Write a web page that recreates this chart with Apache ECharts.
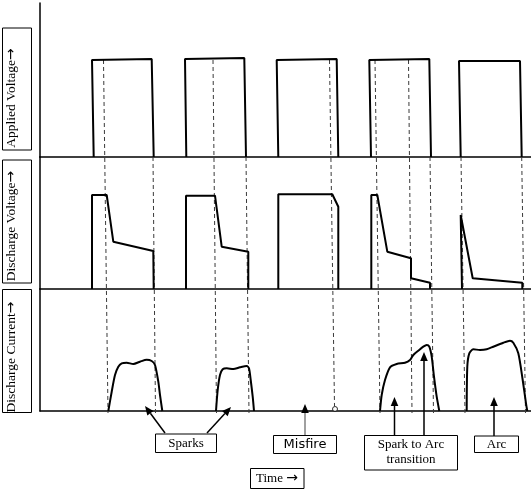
<!DOCTYPE html>
<html><head><meta charset="utf-8">
<script src="https://cdn.jsdelivr.net/npm/echarts@6/dist/echarts.min.js"></script>
<style>html,body{margin:0;padding:0;background:#fff}#c{width:531px;height:490px}</style>
</head><body><div id="c"></div>
<script>
// ---------- DATA (time in arbitrary units, amplitudes in arbitrary units) ----------
const panelLabels = ['Applied Voltage', 'Discharge Voltage', 'Discharge Current'];
const arrowGlyph = '\u2192';
const annotationLabels = ['Sparks', 'Misfire', 'Spark to Arc\ntransition', 'Arc', 'Time '];

// Applied voltage pulses: [time, amplitude]
const appliedV = [
  [[53.7,0],[52,97],[111.7,98],[113.7,0]],
  [[146.3,0],[145,98],[204.3,99],[206,0]],
  [[238.3,0],[236.7,97],[296.7,98],[298.3,0]],
  [[331,0],[329.3,97],[389.3,98],[391,0]],
  [[420.7,0],[419,96],[480,96],[481.7,0]]
];
// Discharge voltage: [time, amplitude]
const dischargeV = [
  [[52,0],[52,94],[66.7,94],[73.3,47.3],[113.3,38],[113.7,0]],
  [[146,0],[146,93.3],[175,93.3],[181.7,42.3],[208.3,37.3],[208.3,0]],
  [[238.3,0],[238.3,94.7],[292.3,94.7],[298.3,82.3],[298.3,0]],
  [[331.3,0],[331.3,94],[337.3,94],[347.3,37.3],[371,30.7],[371,10.7],[390,6.3],[390,0]],
  [[422,0],[420.7,74],[432.7,10.7],[482.3,6.3],[482.3,0]]
];
// Discharge current: [time, amplitude]
const dischargeI = [
  [[68.3,0],[71.7,19.3],[75,36],[78.3,44.3],[81.7,47.7],[86.7,48.3],[93.3,47],[100,49.3],[106.7,51.3],[111.7,50],[115,46],[118.3,29.3],[120,16],[122.3,0]],
  [[176,0],[177.7,21],[180,36],[182.7,41.7],[186.7,42.7],[193.3,42],[200,43.7],[206.7,45],[209,42.7],[210.7,31],[212.7,14.3],[214,0]],
  [[340,0],[341.7,16],[345,31],[350,43.7],[356.7,47],[365,48.3],[370,51],[373.3,56],[378.3,60.3],[383.3,64.3],[386.7,66],[389.3,64.3],[391.7,54.3],[394,34.3],[396.7,14.3],[399.3,0]],
  [[426.7,0],[427.3,44.3],[429.3,57.7],[433.3,61.7],[440,61],[446.7,61.7],[453.3,64.3],[463.3,68.3],[470,70.3],[473.3,68.3],[478.3,57.7],[482.7,31],[486,7.7],[487.3,0]]
];
const misfirePoint = [[295, 2]];

// Event guides (dashed): time at top, time at bottom, whether guide starts at pulse top
const markTimeTop    = [63.5, 113, 173, 206, 289.5, 335, 368.5, 390, 421, 481.7];
const markTimeBottom = [68, 115.5, 176.5, 209, 294.5, 340, 372, 393.5, 425, 485.5];
const markFromPulseTop = [true, false, true, false, true, true, true, false, false, false];
const markEndsAtMisfire = [false, false, false, false, true, false, false, false, false, false];

// ---------- LAYOUT ----------
const L = 40, W = 491;
const panels = [{top: 3, h: 154}, {top: 157, h: 132}, {top: 289, h: 122}];
const depthPulseTop = 60, depthBase = 157, depthEnd = 413, depthMisfire = 406;
const serif = '"Liberation Serif","Times New Roman",serif';
const arrowFont = '14px "DejaVu Sans",sans-serif';

const chart = echarts.init(document.getElementById('c'), null, {renderer: 'canvas'});

const grids = panels.map(p => ({left: L, right: 0, top: p.top, height: p.h, containLabel: false}));
grids.push({left: L, right: 0, top: 0, bottom: 0});

const xAxes = panels.map((p, i) => ({
  gridIndex: i, type: 'value', min: 0, max: W,
  axisLine: {show: true, onZero: true, lineStyle: {color: '#000', width: 1.5}},
  axisTick: {show: false}, axisLabel: {show: false}, splitLine: {show: false}
}));
xAxes.push({gridIndex: 3, type: 'value', min: 0, max: W, show: false});
const yAxes = panels.map((p, i) => ({
  gridIndex: i, type: 'value', min: 0, max: p.h,
  axisLine: {show: true, lineStyle: {color: '#000', width: 1.5}},
  axisTick: {show: false}, axisLabel: {show: false}, splitLine: {show: false}
}));
yAxes.push({gridIndex: 3, type: 'value', min: 0, max: 490, inverse: true, show: false});

const series = [];
// dashed guides
markTimeTop.forEach((t, i) => {
  series.push({
    type: 'line', xAxisIndex: 3, yAxisIndex: 3, symbol: 'none', silent: true, z: 1,
    lineStyle: {color: '#3a3a3a', width: 1, type: [4, 3]},
    data: [[t, markFromPulseTop[i] ? depthPulseTop : depthBase],
           [markTimeBottom[i], markEndsAtMisfire[i] ? depthMisfire : depthEnd]]
  });
});
const addWave = (arr, gi, smooth) => arr.forEach(d => series.push({
  type: 'line', xAxisIndex: gi, yAxisIndex: gi, symbol: 'none', z: 3,
  smooth: smooth, lineStyle: {color: '#000', width: 2}, data: d
}));
addWave(appliedV, 0, false);
addWave(dischargeV, 1, false);
addWave(dischargeI, 2, 0.25);
series.push({type: 'scatter', xAxisIndex: 2, yAxisIndex: 2, symbol: 'circle', symbolSize: 5, z: 4,
  itemStyle: {color: '#fff', borderColor: '#000', borderWidth: 1}, data: misfirePoint});

// annotation helpers
function box(x, y, w, h) {
  return {type: 'rect', shape: {x: x, y: y, width: w, height: h}, style: {fill: '#fff', stroke: '#000', lineWidth: 1}, z: 10};
}
function label(x, y, text, font, rot, withArrow) {
  const style = {text: text, font: font, fill: '#000', align: 'center', verticalAlign: 'middle',
    textAlign: 'center', textVerticalAlign: 'middle', lineHeight: 15};
  if (withArrow) {
    style.text = '{a|' + text + '}{b|' + arrowGlyph + '}';
    style.rich = {a: {font: font, fill: '#000'}, b: {font: arrowFont, fill: '#000'}};
  }
  return {type: 'text', x: x, y: y, rotation: rot || 0, z: 11, style: style};
}
function arrow(x1, y1, x2, y2, color) {
  const dx = x2 - x1, dy = y2 - y1, len = Math.hypot(dx, dy), ux = dx / len, uy = dy / len;
  const hl = 9, hw = 3.8, bx = x2 - ux * hl, by = y2 - uy * hl;
  return [
    {type: 'line', shape: {x1: x1, y1: y1, x2: bx, y2: by}, style: {stroke: color, lineWidth: 1.5}, z: 10},
    {type: 'polygon', shape: {points: [[x2, y2], [bx - uy * hw, by + ux * hw], [bx + uy * hw, by - ux * hw]]}, style: {fill: '#000'}, z: 10}
  ];
}
const gfx = [];
const pf = '13.5px ' + serif;
// axis-name boxes
gfx.push(box(2.5, 28, 29, 122), label(11.5, 98, panelLabels[0], pf, Math.PI / 2, true));
gfx.push(box(2.5, 160, 29, 123), label(11.5, 226, panelLabels[1], pf, Math.PI / 2, true));
gfx.push(box(2.5, 289.5, 29, 123), label(11.5, 357, panelLabels[2], pf, Math.PI / 2, true));
// arrows
gfx.push(...arrow(165, 433, 145, 406, '#000'));
gfx.push(...arrow(207, 433, 231, 407, '#000'));
gfx.push(...arrow(305, 435, 305, 404, '#808080'));
gfx.push(...arrow(394.5, 435, 394.5, 397, '#000'));
gfx.push(...arrow(424, 435, 424, 352, '#000'));
gfx.push(...arrow(494, 436, 494, 397, '#000'));
// annotation boxes
gfx.push(box(155.5, 434, 61, 18.5), label(186, 443.5, annotationLabels[0], '13px ' + serif));
gfx.push(box(273.5, 435.5, 63, 18), label(305, 445, annotationLabels[1], '13px "DejaVu Sans",sans-serif'));
gfx.push(box(364.5, 435.5, 93, 34.5), label(411, 452.5, annotationLabels[2], '13px ' + serif));
gfx.push(box(474.5, 436, 44, 16.5), label(496.5, 444.5, annotationLabels[3], '13px ' + serif));
gfx.push(box(250.5, 468.5, 53.5, 20), label(277, 478.5, annotationLabels[4], '13px ' + serif, 0, true));

chart.setOption({
  animation: false,
  backgroundColor: '#fff',
  grid: grids, xAxis: xAxes, yAxis: yAxes, series: series,
  graphic: {elements: gfx}
});
</script></body></html>
